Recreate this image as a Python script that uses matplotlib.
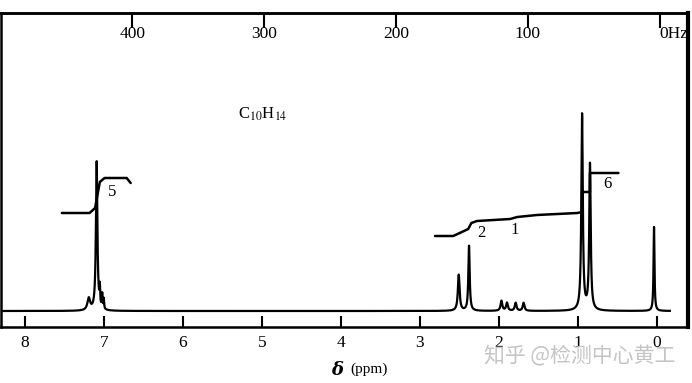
import numpy as np
import matplotlib
matplotlib.use("Agg")
import matplotlib.pyplot as plt
from matplotlib.ticker import FixedLocator, FuncFormatter

plt.rcParams['mathtext.fontset'] = 'stix'
SERIF = ['Liberation Serif', 'DejaVu Serif']

# ---- data ----
peak_ppm = [7.19, 7.09, 7.05, 7.02, 7.00, 2.51, 2.38, 1.97, 1.90, 1.79, 1.69, 0.95, 0.85, 0.04]
peak_height = [12, 149, 18, 14, 10, 36, 65, 10, 8, 8, 8, 196, 146, 84]
peak_hwhm = [0.02, 0.011, 0.005, 0.005, 0.005, 0.013, 0.010, 0.013, 0.013, 0.013, 0.013, 0.011, 0.011, 0.007]

arom_int_ppm = [7.53, 7.18, 7.11, 7.05, 6.99, 6.71, 6.66]
arom_int_val = [98, 98, 103, 129, 133, 133, 128]

aliph_int_ppm = [2.81, 2.58, 2.47, 2.39, 2.35, 2.28, 1.86, 1.77, 1.52, 1.01, 0.95, 0.95, 0.87, 0.85, 0.85, 0.49]
aliph_int_val = [75, 75, 79, 82, 88, 90, 92, 94, 96, 98, 99, 119, 119, 119, 138, 138]

int_labels = ['5', '2', '1', '6']
int_label_ppm = [6.89, 2.22, 1.80, 0.63]
int_label_val = [119, 78, 81, 127]

ppm_ticks = [8, 7, 6, 5, 4, 3, 2, 1, 0]
hz_ticks = [400, 300, 200, 100, 0]
formula = r'C$_{10}$H$_{14}$'
formula_pos = (4.99, 197)

# ---- figure ----
fig = plt.figure(figsize=(6.92, 3.83), dpi=100)
ax = fig.add_axes([1/692, 56/383, 687/692, 314/383])
ax.set_xlim(8.30, -0.39)
ax.set_ylim(-16, 298)

x = np.linspace(8.30, -0.16, 30000)
y = np.zeros_like(x)
for p, h, w in zip(peak_ppm, peak_height, peak_hwhm):
    y += h * w**2 / ((x - p)**2 + w**2)
ax.plot(x, y, color='black', lw=1.6)

ax.plot(arom_int_ppm, arom_int_val, color='black', lw=1.8, solid_capstyle='round')
ax.plot(aliph_int_ppm, aliph_int_val, color='black', lw=1.8, solid_capstyle='round')

for t, px, pv in zip(int_labels, int_label_ppm, int_label_val):
    ax.text(px, pv, t, family=SERIF, fontsize=12, ha='center', va='center')

ax.text(formula_pos[0], formula_pos[1], formula, family=SERIF, fontsize=12,
        ha='center', va='center')

for s in ax.spines.values():
    s.set_linewidth(1.8)
ax.spines['right'].set_linewidth(3)

ax.set_yticks([])
ax.xaxis.set_major_locator(FixedLocator(ppm_ticks))
ax.tick_params(axis='x', direction='in', length=8, width=1.5, pad=6, labelsize=12.5)
for lab in ax.get_xticklabels():
    lab.set_family(SERIF)

secax = ax.secondary_xaxis('top', functions=(lambda p: 60 * (p + 0.03), lambda h: h / 60 - 0.03))
secax.xaxis.set_major_locator(FixedLocator(hz_ticks))
secax.xaxis.set_major_formatter(FuncFormatter(lambda v, pos: '0Hz' if abs(v) < 1e-6 else f'{int(round(v))}'))
secax.tick_params(axis='x', direction='in', length=11, width=1.5, pad=-21, labelsize=12.5)
secax.spines['top'].set_linewidth(1.8)
for lab in secax.get_xticklabels():
    lab.set_family(SERIF)

fig.canvas.draw()
for tk in secax.xaxis.get_major_ticks():
    if tk.label2.get_text() == '0Hz':
        tk.label2.set_horizontalalignment('left')

# axis label: bold italic delta + (ppm)
fig.text(337/692, 1 - 370/383, 'δ', family=['DejaVu Serif'], fontweight='bold', fontstyle='italic',
         fontsize=13, ha='center', va='center')
fig.text(350/692, 1 - 369/383, '(ppm)', family=SERIF, fontsize=11, ha='left', va='center')

# watermark (overlaps the tick labels, as in the reference)
fig.text(484/692, 1 - 356/383, '知乎 @检测中心黄工', family=['Noto Sans CJK SC', 'DejaVu Sans'],
         fontsize=15, color='#c4c4c4', ha='left', va='center')

fig.savefig('out.png', dpi=100, facecolor='white')
